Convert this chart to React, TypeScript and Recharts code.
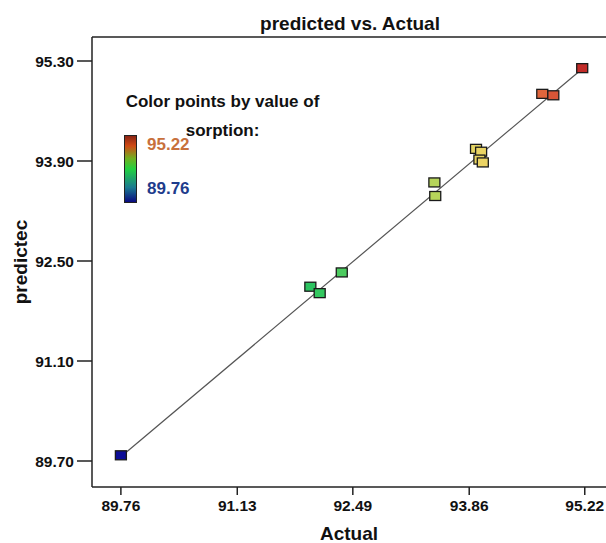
import { ScatterChart, Scatter, XAxis, YAxis, ReferenceLine } from 'recharts';

// actual vs predicted sorption (%)
const actual = [89.76, 91.99, 92.10, 92.36, 93.45, 93.46, 93.94, 94.00, 93.98, 94.02, 94.72, 94.85, 95.19];
const predicted = [89.78, 92.14, 92.05, 92.34, 93.60, 93.41, 94.07, 94.03, 93.92, 93.88, 94.84, 94.82, 95.20];

const xTicks = [89.76, 91.13, 92.49, 93.86, 95.22];
const yTicks = [89.70, 91.10, 92.50, 93.90, 95.30];

const minVal = 89.76;
const maxVal = 95.22;

const points = actual.map((a, i) => ({ x: a, y: predicted[i] }));

const FONT = '"Liberation Sans", Arial, Helvetica, sans-serif';

// blue -> green -> yellow -> red colour ramp, like the design software
const stops: [number, number[]][] = [
  [0, [12, 12, 150]],
  [0.42, [46, 200, 96]],
  [0.68, [184, 212, 90]],
  [0.78, [236, 212, 100]],
  [0.91, [224, 100, 60]],
  [1, [192, 40, 40]],
];

const colorFor = (v: number) => {
  const t = Math.max(0, Math.min(1, (v - minVal) / (maxVal - minVal)));
  for (let i = 1; i < stops.length; i++) {
    const [t1, c1] = stops[i];
    const [t0, c0] = stops[i - 1];
    if (t <= t1) {
      const k = (t - t0) / (t1 - t0);
      const c = c0.map((ch, j) => Math.round(ch + (c1[j] - ch) * k));
      return `rgb(${c[0]},${c[1]},${c[2]})`;
    }
  }
  return 'rgb(192,40,40)';
};

const SquareDot = (props: any) => {
  const { cx, cy, payload } = props;
  if (cx == null || cy == null) return null;
  return (
    <rect
      x={cx - 5.5}
      y={cy - 4.5}
      width={11}
      height={9}
      fill={colorFor(payload.x)}
      stroke="#1a1a1a"
      strokeWidth={1.3}
    />
  );
};

const tickStyle = { fill: '#111', fontSize: 15.5, fontWeight: 700, fontFamily: FONT };

export default function App() {
  return (
    <div style={{ position: 'absolute', left: 0, top: 0, width: 606, height: 543, background: '#fff', fontFamily: FONT }}>
      <ScatterChart width={606} height={543} margin={{ top: 37, right: 0, bottom: 0, left: 0 }}>
        <XAxis
          type="number"
          dataKey="x"
          domain={[89.42, 95.47]}
          ticks={xTicks}
          tickFormatter={(v: number) => v.toFixed(2)}
          allowDataOverflow
          height={56}
          tickSize={8}
          tickMargin={5}
          stroke="#222"
          strokeWidth={1.5}
          tick={tickStyle}
          label={{ value: 'Actual', position: 'insideBottom', offset: 3, fill: '#111', fontSize: 19, fontWeight: 700, fontFamily: FONT }}
        />
        <YAxis
          type="number"
          dataKey="y"
          domain={[89.336, 95.636]}
          ticks={yTicks}
          tickFormatter={(v: number) => v.toFixed(2)}
          allowDataOverflow
          width={92}
          tickSize={15}
          tickMargin={3}
          stroke="#222"
          strokeWidth={1.5}
          tick={tickStyle}
          label={() => (
            <text
              x={20}
              y={262}
              transform="rotate(-90 20 262)"
              textAnchor="middle"
              dominantBaseline="central"
              fill="#111"
              fontSize={19}
              fontWeight={700}
              fontFamily={FONT}
            >
              predictec
            </text>
          )}
        />
        <ReferenceLine y={95.636} stroke="#222" strokeWidth={1.5} ifOverflow="visible" />
        <ReferenceLine
          segment={[{ x: minVal, y: minVal }, { x: maxVal, y: maxVal }]}
          stroke="#555"
          strokeWidth={1.2}
        />
        <Scatter data={points} shape={<SquareDot />} isAnimationActive={false} />
      </ScatterChart>

      <div style={{ position: 'absolute', left: 150, top: 13, width: 400, textAlign: 'center', fontSize: 19, fontWeight: 700, color: '#111', lineHeight: '22px' }}>
        predicted vs. Actual
      </div>

      <div style={{ position: 'absolute', left: 100, top: 87, width: 245, textAlign: 'center', fontSize: 17, fontWeight: 700, color: '#111', lineHeight: '29px' }}>
        Color points by value of
        <br />
        sorption:
      </div>
      <div
        style={{
          position: 'absolute',
          left: 124,
          top: 135,
          width: 11,
          height: 66,
          border: '1.5px solid #222',
          background: 'linear-gradient(to top, #0a0a80 0%, #1a7a90 22%, #22d040 50%, #70b020 66%, #d04a14 85%, #8a2414 100%)',
        }}
      />
      <div style={{ position: 'absolute', left: 147, top: 135, fontSize: 17, fontWeight: 700, color: '#c8703c', lineHeight: '20px' }}>
        {maxVal.toFixed(2)}
      </div>
      <div style={{ position: 'absolute', left: 147, top: 179, fontSize: 17, fontWeight: 700, color: '#1e3c8c', lineHeight: '20px' }}>
        {minVal.toFixed(2)}
      </div>
    </div>
  );
}
